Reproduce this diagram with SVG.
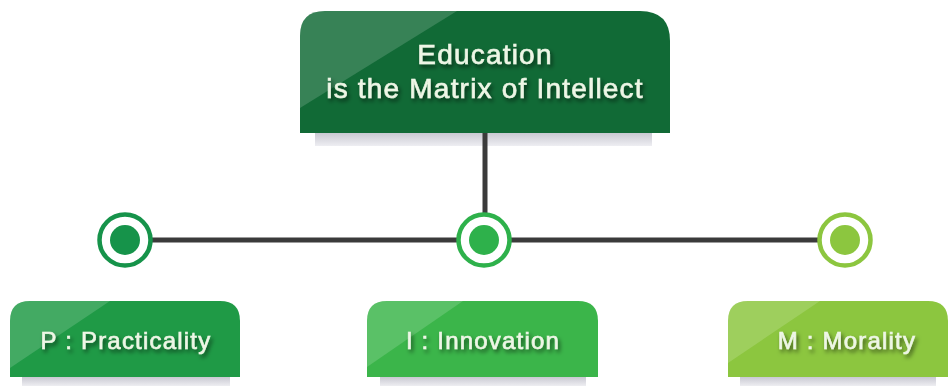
<svg xmlns="http://www.w3.org/2000/svg" width="950" height="386" viewBox="0 0 950 386">
<defs>
<style>
.t{font-family:"Liberation Sans",Arial,sans-serif;fill:#eef6e6;text-anchor:middle;stroke:#eef6e6;stroke-width:0.6}
.big{font-size:28px;letter-spacing:1.2px}
.small{font-size:24px;letter-spacing:1.2px}
.hl{fill:#ffffff;fill-opacity:0.16}
.conn{stroke:#3b3b3b;stroke-width:5;fill:none}
.shadow{fill:url(#sh)}
</style>
<linearGradient id="sh" x1="0" y1="0" x2="0" y2="1">
<stop offset="0" stop-color="#c9c9d2"/>
<stop offset="1" stop-color="#eeeef2"/>
</linearGradient>
<filter id="ts" x="-10%" y="-30%" width="130%" height="180%">
<feDropShadow dx="2" dy="3" stdDeviation="2.2" flood-color="#000" flood-opacity="0.55"/>
</filter>
<clipPath id="cTop"><path d="M300 36 Q300 11 325 11 L640 11 Q670 11 670 41 L670 133 L300 133 Z"/></clipPath>
<clipPath id="cP"><path d="M10 321 Q10 301 30 301 L220 301 Q240 301 240 321 L240 377 L10 377 Z"/></clipPath>
<clipPath id="cI"><path d="M367 321 Q367 301 387 301 L578 301 Q598 301 598 321 L598 377 L367 377 Z"/></clipPath>
<clipPath id="cM"><path d="M728 321 Q728 301 748 301 L928 301 Q948 301 948 321 L948 377 L728 377 Z"/></clipPath>
</defs>
<rect width="950" height="386" fill="#ffffff"/>

<g id="top">
<rect class="shadow" x="315" y="133" width="337" height="13"/>
<path d="M300 36 Q300 11 325 11 L640 11 Q670 11 670 41 L670 133 L300 133 Z" fill="#116a36"/>
<polygon class="hl" clip-path="url(#cTop)" points="300,11 457,11 300,108"/>
<g filter="url(#ts)">
<text class="t big" x="485" y="64">Education</text>
<text class="t big" x="485" y="98">is the Matrix of Intellect</text>
</g>
</g>

<g id="connectors">
<line class="conn" x1="485" y1="133" x2="485" y2="240"/>
<line class="conn" x1="125" y1="240" x2="845" y2="240"/>
</g>

<g id="dot-p">
<circle cx="125" cy="240" r="25.5" fill="#ffffff" stroke="#16934a" stroke-width="4.5"/>
<circle cx="125" cy="240" r="15" fill="#16934a"/>
</g>
<g id="dot-i">
<circle cx="484" cy="240" r="25.5" fill="#ffffff" stroke="#2eb14b" stroke-width="4.5"/>
<circle cx="484" cy="240" r="15" fill="#2eb14b"/>
</g>
<g id="dot-m">
<circle cx="845" cy="240" r="25.5" fill="#ffffff" stroke="#8cc63f" stroke-width="4.5"/>
<circle cx="845" cy="240" r="15" fill="#8cc63f"/>
</g>

<g id="box-p">
<rect class="shadow" x="22" y="377" width="208" height="9"/>
<path d="M10 321 Q10 301 30 301 L220 301 Q240 301 240 321 L240 377 L10 377 Z" fill="#1f9a46"/>
<polygon class="hl" clip-path="url(#cP)" points="10,301 110,301 10,368"/>
<g filter="url(#ts)"><text class="t small" x="126" y="349">P : Practicality</text></g>
</g>

<g id="box-i">
<rect class="shadow" x="380" y="377" width="206" height="9"/>
<path d="M367 321 Q367 301 387 301 L578 301 Q598 301 598 321 L598 377 L367 377 Z" fill="#3bb54a"/>
<polygon class="hl" clip-path="url(#cI)" points="367,301 463,301 367,367"/>
<g filter="url(#ts)"><text class="t small" x="483" y="349">I : Innovation</text></g>
</g>

<g id="box-m">
<rect class="shadow" x="740" y="377" width="196" height="9"/>
<path d="M728 321 Q728 301 748 301 L928 301 Q948 301 948 321 L948 377 L728 377 Z" fill="#8cc63f"/>
<polygon class="hl" clip-path="url(#cM)" points="728,301 820,301 728,363"/>
<g filter="url(#ts)"><text class="t small" x="847" y="349">M : Morality</text></g>
</g>
</svg>
